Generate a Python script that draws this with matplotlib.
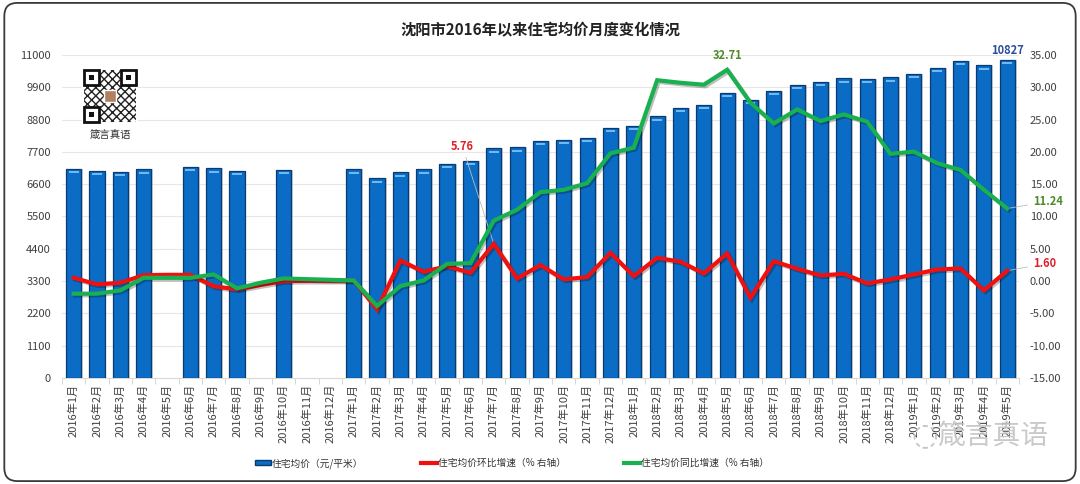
"""
沈阳市住宅均价月度变化
"""

import numpy as np
import matplotlib
matplotlib.use("Agg")
import matplotlib.pyplot as plt  # type: ignore
import matplotlib.patheffects as pe  # type: ignore
from matplotlib.patches import FancyBboxPatch, Rectangle  # type: ignore

plt.rcParams["font.family"] = ["Noto Sans CJK SC", "DejaVu Sans"]

NAN = np.nan

years = [2016] * 12 + [2017] * 12 + [2018] * 12 + [2019] * 5
months = list(range(1, 13)) * 3 + list(range(1, 6))

price = [
    7116, 7053, 7030, 7110, NAN, 7190, 7145, 7053, NAN, 7087, NAN, NAN,
    7110, 6804, 7009, 7110, 7291, 7393, 7825, 7860, 8075, 8109, 8177, 8528,
    8596, 8916, 9198, 9311, 9709, 9471, 9777, 9991, 10082, 10208, 10195, 10242,
    10354, 10568, 10796, 10650, 10827,
]

mom = [
    0.51, -0.51, -0.26, 0.92, 0.97, 0.97, -0.80, -1.28, -0.60, 0.00, 0.05, 0.05,
    0.10, -4.37, 3.19, 1.44, 2.31, 1.28, 5.76, 0.41, 2.47, 0.26, 0.62, 4.37,
    0.77, 3.60, 3.00, 1.18, 4.27, -2.57, 3.08, 1.90, 0.87, 1.13, -0.36, 0.26,
    1.03, 1.80, 1.95, -1.44, 1.60,
]

yoy = [
    -1.95, -1.95, -1.44, 0.51, 0.51, 0.50, 1.03, -1.13, -0.26, 0.41, 0.30, 0.20,
    0.10, -3.85, -0.77, 0.10, 2.67, 2.77, 9.35, 11.05, 13.77, 14.13, 15.15, 19.78,
    20.65, 31.09, 30.70, 30.40, 32.71, 27.60, 24.40, 26.57, 24.77, 25.80, 24.67, 19.70,
    20.04, 18.24, 17.20, 14.13, 11.24,
]

labels = [f"{y}年{m}月" for y, m in zip(years, months)]

BLUE = "#0a6cc4"
RED = "#f01010"
GREEN = "#19b050"
GRAY = "#404040"

fig = plt.figure(figsize=(10.8, 4.84), dpi=100)
ax = fig.add_axes([0.0574, 0.219, 0.886, 0.6674])
x = np.arange(len(labels))
pv = np.array(price, dtype=float)

# bars with a darker rim and light cap
ax.bar(x + 0.08, pv, width=0.65, color="#9aa6b4", alpha=0.5, zorder=2)
ax.bar(x, pv, width=0.65, color=BLUE, edgecolor="#0a3a70", linewidth=0.9, zorder=3)
ax.bar(x, np.where(np.isnan(pv), NAN, 70), bottom=pv - 150, width=0.42,
       color="#6fb8f2", zorder=4)

ax.set_xlim(-0.5, len(labels) - 0.5)
ax.set_ylim(0, 11000)
ax.set_yticks(np.arange(0, 11001, 1100))
ax.grid(axis="y", color="#e6e6e6", linewidth=0.8, zorder=0)
ax.set_axisbelow(True)
ax.set_xticks(x)
ax.set_xticklabels(labels, rotation=90, fontsize=8, color=GRAY)
ax.set_xticks(np.arange(-0.5, len(labels), 1), minor=True)
ax.tick_params(axis="x", which="major", length=0, pad=4)
ax.tick_params(axis="x", which="minor", length=4, color="#d0d0d0")
ax.tick_params(axis="y", length=0, labelsize=8, labelcolor=GRAY, pad=8)
for s in ["top", "right", "left"]:
    ax.spines[s].set_visible(False)
ax.spines["bottom"].set_color("#d9d9d9")

ax2 = ax.twinx()
ax2.set_ylim(-15, 35)
ax2.set_yticks(np.arange(-15, 36, 5))
ax2.set_yticklabels([f"{v:.2f}" for v in np.arange(-15, 36, 5)])
ax2.tick_params(axis="y", length=0, labelsize=8, labelcolor=GRAY, pad=8)
for s in ["top", "right", "left", "bottom"]:
    ax2.spines[s].set_visible(False)

shadow = [pe.SimpleLineShadow(offset=(1.2, -1.2), alpha=0.25), pe.Normal()]
ax2.plot(x, mom, color=RED, linewidth=3, solid_joinstyle="miter",
         path_effects=shadow, zorder=5)
ax2.plot(x, yoy, color=GREEN, linewidth=3, solid_joinstyle="miter",
         path_effects=shadow, zorder=6)

# data labels
i7 = labels.index("2017年7月")
ax2.annotate(f"{mom[i7]:.2f}", xy=(x[i7], mom[i7]), xytext=(x[i7] - 0.85, 20.8),
             color="#e0202a", fontsize=8, fontweight="bold", ha="right", va="center",
             arrowprops=dict(arrowstyle="-", color="#bbbbbb", lw=0.6,
                             shrinkA=1, shrinkB=2))
i5 = labels.index("2018年5月")
ax2.text(x[i5], yoy[i5] + 1.2, f"{yoy[i5]:.2f}", color="#4e8a2a", fontsize=8,
         fontweight="bold", ha="center", va="bottom")
ax.text(x[-1], pv[-1] + 120, f"{int(pv[-1])}", color="#2d4e9a", fontsize=8,
        fontweight="bold", ha="center", va="bottom")
ax2.annotate(f"{yoy[-1]:.2f}", xy=(x[-1], yoy[-1]), xytext=(x[-1] + 1.1, 12.3),
             color="#4e8a2a", fontsize=8, fontweight="bold", ha="left", va="center",
             arrowprops=dict(arrowstyle="-", color="#bbbbbb", lw=0.6))
ax2.annotate(f"{mom[-1]:.2f}", xy=(x[-1], mom[-1]), xytext=(x[-1] + 1.1, 2.7),
             color="#e0202a", fontsize=8, fontweight="bold", ha="left", va="center",
             arrowprops=dict(arrowstyle="-", color="#bbbbbb", lw=0.6))

fig.text(0.5, 0.938, "沈阳市2016年以来住宅均价月度变化情况", ha="center", va="center",
         fontsize=11, fontweight="bold", color="#222222")

# legend
h_bar = Rectangle((0, 0), 1, 1, facecolor=BLUE, edgecolor="#0a3a70")
h_red = plt.Line2D([], [], color=RED, linewidth=3)
h_green = plt.Line2D([], [], color=GREEN, linewidth=3)
fig.legend([h_bar, h_red, h_green],
           ["住宅均价（元/平米）", "住宅均价环比增速（% 右轴）", "住宅均价同比增速（% 右轴）"],
           loc="center", bbox_to_anchor=(0.474, 0.043), ncol=3, frameon=False,
           fontsize=7, handlelength=1.6, handleheight=0.5, handletextpad=0.1,
           columnspacing=6.0, labelcolor="#333333")

# QR-like logo block
qr = fig.add_axes([82 / 1080, 1 - 124 / 484, 56 / 1080, 56 / 484])
qr.set_xlim(0, 7)
qr.set_ylim(0, 7)
qr.axis("off")
qr.add_patch(Rectangle((0, 0), 7, 7, facecolor="white", edgecolor="none"))
qr.add_patch(Rectangle((0.3, 0.3), 6.4, 6.4, facecolor="white", edgecolor="#222222",
                       hatch="xxxx", linewidth=0))
for fx, fy in [(0.3, 4.9), (4.9, 4.9), (0.3, 0.3)]:
    qr.add_patch(Rectangle((fx, fy), 1.8, 1.8, facecolor="white", edgecolor="#111111", lw=2))
    qr.add_patch(Rectangle((fx + 0.55, fy + 0.55), 0.7, 0.7, facecolor="#111111"))
qr.add_patch(Rectangle((2.8, 2.8), 1.4, 1.4, facecolor="#b08060", edgecolor="white", lw=1))
fig.text(110 / 1080, 1 - 136 / 484, "箴言真语", ha="center", va="center",
         fontsize=7.5, color="#333333")

# watermark
fig.text(993 / 1080, 1 - 436 / 484, "箴言真语", ha="center", va="center",
         fontsize=20, color="#c4c4c4", alpha=0.9)
fig.text(925 / 1080, 1 - 436 / 484, "◌", ha="center", va="center",
         fontsize=22, color="#c4c4c4", family=["DejaVu Sans"])

frame = FancyBboxPatch((0.004, 0.006), 0.992, 0.988, transform=fig.transFigure,
                       boxstyle="round,pad=0,rounding_size=0.012",
                       mutation_aspect=1080 / 484, fill=False,
                       edgecolor="#3a3a3a", linewidth=1.3)
fig.patches.append(frame)

fig.savefig("out.png", dpi=100)
